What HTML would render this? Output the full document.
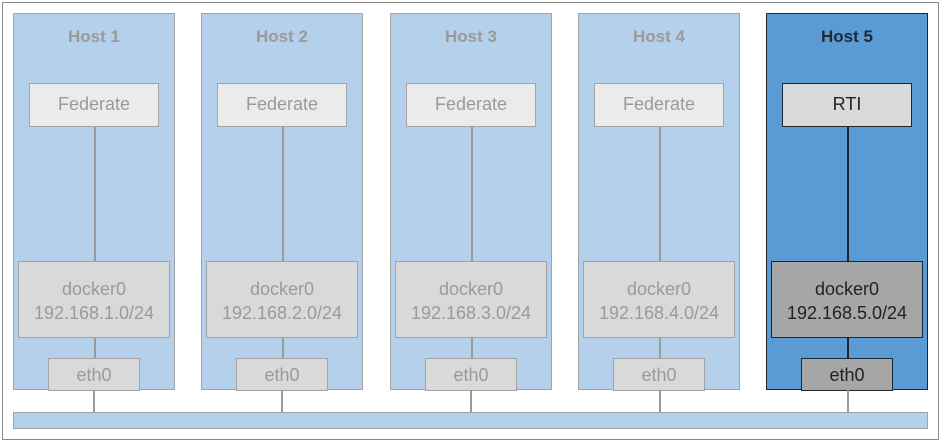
<!DOCTYPE html>
<html><head><meta charset="utf-8"><style>
*{box-sizing:border-box;margin:0;padding:0}
body{width:941px;height:443px;background:#fff;position:relative;overflow:hidden;font-family:"Liberation Sans",sans-serif}
.a{position:absolute}
.frame{left:2px;top:2px;width:937px;height:438px;border:1.5px solid #8a8a8a}
.host{top:13px;width:162px;height:377px;background:#b4d0ea;border:1.5px solid #a3a3a3}
.t{position:absolute;left:0;right:0;top:13px;text-align:center;font-weight:bold;font-size:17px;color:#9a9a9a}
.ln{position:absolute;left:80px;width:1.5px;background:#9a9a9a}
.fed{position:absolute;left:15px;top:69px;width:130px;height:44px;background:#ebebeb;border:1.5px solid #a3a3a3;color:#9a9a9a;font-size:18px;text-align:center;line-height:41px}
.dock{position:absolute;left:4px;top:247px;width:152px;height:77px;background:#d9d9d9;border:1.5px solid #a3a3a3;color:#9a9a9a;font-size:18px;text-align:center;line-height:24px;padding-top:15px}
.eth{position:absolute;left:34px;top:344px;width:92px;height:33px;background:#d9d9d9;border:1.5px solid #a3a3a3;color:#9a9a9a;font-size:18px;text-align:center;line-height:32px}
.h5{background:#5b9bd5;border-color:#1c2733}
.h5 .t{color:#1f2a36}
.h5 .ln{background:#1c2733}
.h5 .fed{background:#d9d9d9;border-color:#1c2733;color:#222}
.h5 .dock{background:#a6a6a6;border-color:#1c2733;color:#222}
.h5 .eth{background:#a6a6a6;border-color:#1c2733;color:#222}
.bus{left:13px;top:412px;width:915px;height:17px;background:#b4d0ea;border:1.5px solid #a3a3a3}
.c{top:390px;width:1.5px;height:22px;background:#9a9a9a}
</style></head><body>
<div class="a frame"></div>
<div class="a host" style="left:13px"><div class="t">Host 1</div><div class="ln" style="top:113px;height:134px"></div><div class="ln" style="top:324px;height:20px"></div><div class="fed">Federate</div><div class="dock">docker0<br>192.168.1.0/24</div><div class="eth">eth0</div></div>
<div class="a host" style="left:201px"><div class="t">Host 2</div><div class="ln" style="top:113px;height:134px"></div><div class="ln" style="top:324px;height:20px"></div><div class="fed">Federate</div><div class="dock">docker0<br>192.168.2.0/24</div><div class="eth">eth0</div></div>
<div class="a host" style="left:390px"><div class="t">Host 3</div><div class="ln" style="top:113px;height:134px"></div><div class="ln" style="top:324px;height:20px"></div><div class="fed">Federate</div><div class="dock">docker0<br>192.168.3.0/24</div><div class="eth">eth0</div></div>
<div class="a host" style="left:578px"><div class="t">Host 4</div><div class="ln" style="top:113px;height:134px"></div><div class="ln" style="top:324px;height:20px"></div><div class="fed">Federate</div><div class="dock">docker0<br>192.168.4.0/24</div><div class="eth">eth0</div></div>
<div class="a host h5" style="left:766px"><div class="t">Host 5</div><div class="ln" style="top:113px;height:134px"></div><div class="ln" style="top:324px;height:20px"></div><div class="fed">RTI</div><div class="dock">docker0<br>192.168.5.0/24</div><div class="eth">eth0</div></div>
<div class="a bus"></div>
<div class="a c" style="left:93px"></div>
<div class="a c" style="left:281px"></div>
<div class="a c" style="left:470px"></div>
<div class="a c" style="left:659px"></div>
<div class="a c" style="left:847px"></div>
</body></html>
